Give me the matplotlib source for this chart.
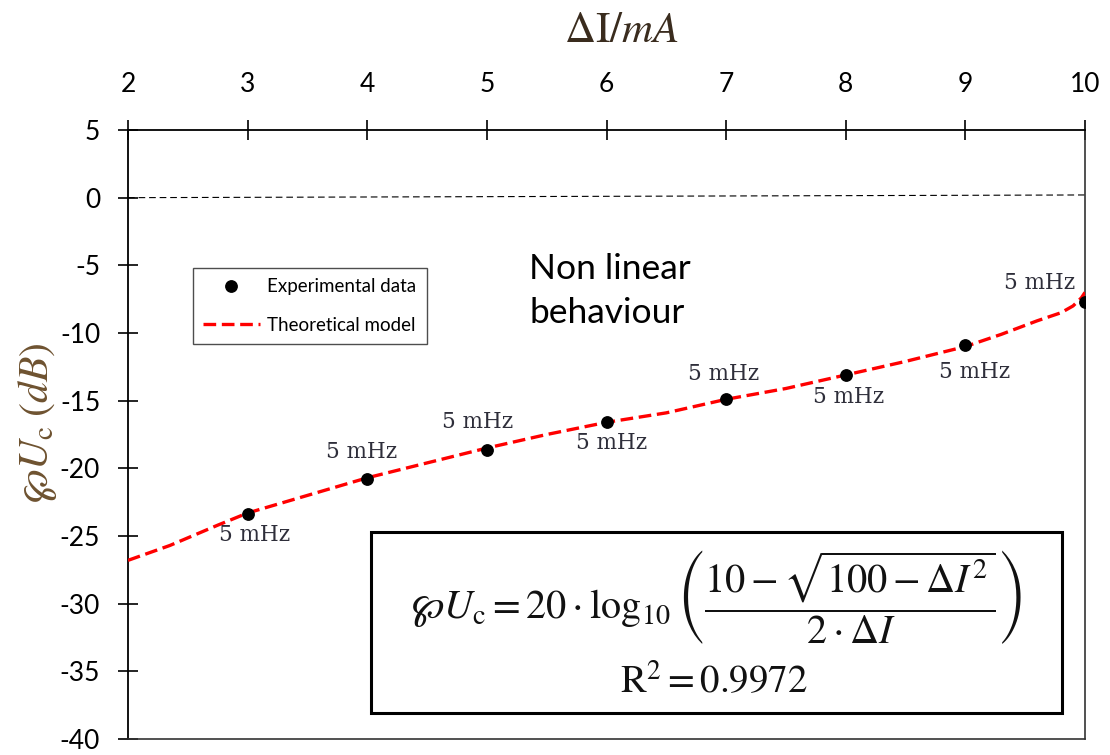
import matplotlib
matplotlib.use("Agg")
import matplotlib.pyplot as plt
from matplotlib.patches import Rectangle

# ---------------- data ----------------
exp_x = [3, 4, 5, 6, 7, 8, 9, 10]
exp_y = [-23.4, -20.8, -18.65, -16.6, -14.9, -13.1, -10.9, -7.7]
exp_labels = ["5 mHz"] * 8

model_x = [2.0, 2.35, 2.75, 3.0, 3.5, 4.0, 4.5, 5.0, 5.5, 6.0, 6.5, 7.0,
           7.5, 8.0, 8.5, 9.0, 9.3, 9.6, 9.8, 9.9, 9.97, 10.0]
model_y = [-26.8, -25.7, -24.2, -23.3, -22.0, -20.7, -19.6, -18.5, -17.5,
           -16.6, -15.9, -14.9, -14.1, -13.1, -12.1, -11.0, -10.1, -9.1,
           -8.5, -8.0, -7.4, -7.0]

ref_x = [2, 10]
ref_y = [0.0, 0.2]

x_ticks = [2, 3, 4, 5, 6, 7, 8, 9, 10]
y_ticks = [5, 0, -5, -10, -15, -20, -25, -30, -35, -40]

# label offsets in pixels (style)
label_offsets = [(7, -21), (-6, 27), (-9, 28), (5, -21), (-3, 25),
                 (3, -22), (9, -27), (-45, 19)]

W, H = 1110, 755
plt.rcParams['mathtext.fontset'] = 'stix'
fig = plt.figure(figsize=(W / 100, H / 100), dpi=100)

def fx(px):
    return px / W

def fy(py):
    return 1 - py / H

left, right, top, bottom = 128, 1085, 130, 739
ax = fig.add_axes([fx(left), fy(bottom), (right - left) / W, (bottom - top) / H])
ax.set_xlim(2, 10)
ax.set_ylim(-40, 5)

# reference zero line
ax.plot(ref_x, ref_y, color='black', lw=0.8, dashes=(6, 3.5))
# model
ax.plot(model_x, model_y, color='#ff0000', lw=2.4, dashes=(3.8, 1.7),
        label='Theoretical model', zorder=3)
# experimental data
ax.plot(exp_x, exp_y, 'o', color='black', ms=8.2, label='Experimental data',
        zorder=4, linestyle='none')

for x, y, t, (dx, dy) in zip(exp_x, exp_y, exp_labels, label_offsets):
    ax.annotate(t, (x, y), xytext=(dx, dy), textcoords='offset pixels',
                ha='center', va='center', fontsize=15.5,
                family='DejaVu Serif', color='#2e2e3a')

# spines and ticks
for s in ['left', 'top']:
    ax.spines[s].set_color('black')
    ax.spines[s].set_linewidth(1.3)
for s in ['right', 'bottom']:
    ax.spines[s].set_color('#333333')
    ax.spines[s].set_linewidth(1.2)

ax.xaxis.set_ticks_position('top')
ax.yaxis.set_ticks_position('left')
ax.set_xticks(x_ticks)
ax.set_yticks(y_ticks)
ax.set_xticklabels([str(v) for v in x_ticks])
ax.set_yticklabels([str(v) for v in y_ticks])
ax.tick_params(axis='x', direction='inout', length=14, width=1.2,
               pad=17, labelsize=19, colors='black')
ax.tick_params(axis='y', direction='inout', length=14, width=1.2,
               pad=13, labelsize=19, colors='black')
for lab in ax.get_xticklabels() + ax.get_yticklabels():
    lab.set_family('Lato')

# axis labels
fig.text(fx(621), fy(30), r'$\Delta\mathrm{I}/mA$', ha='center', va='center',
         fontsize=31, color='#3a2c1e')
fig.text(fx(38), fy(423), r'$\wp U_{\mathrm{c}}\;(dB)$', ha='center',
         va='center', rotation=90, fontsize=30, color='#6e5230')

# annotation text
fig.text(fx(529), fy(279), 'Non linear', ha='left', va='baseline',
         fontsize=25.5, family='Lato', color='black')
fig.text(fx(529), fy(323), 'behaviour', ha='left', va='baseline',
         fontsize=25.5, family='Lato', color='black')

# legend
handles, labels = ax.get_legend_handles_labels()
leg = ax.legend(handles[::-1], labels[::-1], loc='upper left',
                bbox_to_anchor=(fx(193), fy(268)),
                bbox_transform=fig.transFigure, borderaxespad=0,
                fancybox=False, frameon=True, edgecolor='#222222',
                handlelength=3.0, handletextpad=0.4,
                borderpad=0.55, labelspacing=1.15,
                prop={'family': 'Lato', 'size': 13.5})
leg.get_frame().set_linewidth(1.0)

# equation box
fig.add_artist(Rectangle((fx(371), fy(713)), (1062 - 371) / W, (713 - 532) / H,
                         transform=fig.transFigure, fill=False,
                         edgecolor='black', lw=2.2))
fig.text(fx(716), fy(597),
         r'$\wp U_{\mathrm{c}} = 20\cdot\log_{10}\left(\dfrac{10-\sqrt{100-\Delta I^{2}}}{2\cdot\Delta I}\right)$',
         ha='center', va='center', fontsize=29, color='#111111')
fig.text(fx(714), fy(682), r'$\mathrm{R}^{2} = 0.9972$', ha='center',
         va='center', fontsize=28, color='#111111')

fig.savefig('out.png', dpi=100)
